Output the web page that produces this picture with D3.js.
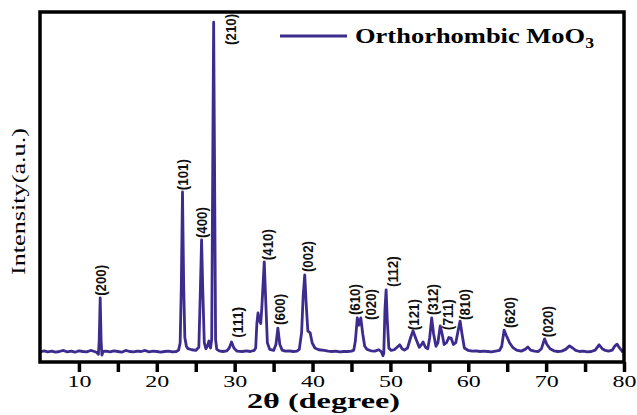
<!DOCTYPE html>
<html lang="en">
<head>
<meta charset="UTF-8">
<title>XRD pattern of orthorhombic MoO3</title>
<script src="https://d3js.org/d3.v7.min.js"></script>
<style>
  body { margin: 0; background: #fff; }
  .serif { font-family: "Liberation Serif", "Times New Roman"; }
  .sans { font-family: "Liberation Sans", Arial; }
</style>
</head>
<body>
<svg id="chart"></svg>
<script>
// 2θ (degree) and intensity (a.u.)
const twoTheta = [
  5.0, 5.5, 6.0, 6.5, 7.0, 7.5, 8.0, 8.5, 9.0, 9.5, 10.0, 10.5, 11.0, 11.5, 12.0, 12.3, 12.5, 12.6, 12.73, 12.85,
  12.95, 13.1, 13.5, 14.0, 14.5, 15.0, 15.5, 16.0, 16.5, 17.0, 17.5, 18.0, 18.5, 19.0, 19.5, 20.0, 20.5, 21.0, 21.5, 22.0,
  22.5, 22.8, 23.0, 23.15, 23.3, 23.45, 23.6, 23.8, 24.0, 24.5, 25.0, 25.4, 25.6, 25.75, 25.9, 26.1, 26.3, 26.5, 26.7, 26.9,
  27.05, 27.2, 27.3, 27.4, 27.55, 27.7, 28.0, 28.5, 29.0, 29.3, 29.6, 29.9, 30.3, 31.0, 31.5, 32.0, 32.5, 32.7, 32.85, 33.0,
  33.15, 33.35, 33.5, 33.8, 34.0, 34.2, 34.5, 35.0, 35.3, 35.55, 35.8, 36.1, 36.5, 37.0, 37.5, 38.0, 38.3, 38.6, 38.8, 39.0,
  39.2, 39.4, 39.7, 39.95, 40.3, 40.8, 41.5, 42.0, 42.5, 43.0, 43.5, 44.0, 44.5, 45.0, 45.3, 45.5, 45.75, 45.95, 46.2, 46.45,
  46.7, 47.0, 47.5, 48.0, 48.5, 48.8, 49.05, 49.15, 49.3, 49.45, 49.6, 49.8, 50.1, 50.5, 51.0, 51.2, 51.5, 51.8, 52.2, 52.6,
  52.9, 53.3, 53.7, 54.0, 54.2, 54.5, 54.8, 55.05, 55.3, 55.55, 55.85, 56.1, 56.4, 56.65, 56.9, 57.2, 57.5, 57.8, 58.1, 58.4,
  58.7, 58.95, 59.2, 59.5, 60.0, 60.5, 61.0, 61.5, 62.0, 62.5, 63.0, 63.5, 64.0, 64.3, 64.6, 64.9, 65.3, 65.7, 66.2, 66.8,
  67.3, 67.65, 68.0, 68.5, 69.0, 69.4, 69.8, 70.1, 70.5, 71.0, 71.5, 72.0, 72.5, 73.0, 73.4, 73.8, 74.3, 74.8, 75.3, 75.8,
  76.3, 76.8, 77.2, 77.6, 78.0, 78.5, 78.8, 79.1, 79.5, 79.8, 80.0
];
const intensity = [
  28, 32, 29, 31, 28, 30, 33, 29, 31, 28, 32, 30, 29, 33, 30, 27, 22, 60, 183, 60,
  20, 30, 31, 29, 32, 30, 28, 33, 30, 29, 31, 30, 33, 29, 31, 30, 28, 30, 31, 29,
  30, 34, 55, 220, 486, 220, 70, 45, 38, 35, 33, 42, 210, 349, 210, 55, 38, 45, 60, 40,
  65, 620, 971, 620, 65, 36, 32, 30, 32, 40, 57, 40, 31, 30, 32, 30, 33, 40, 110, 140,
  120, 110, 160, 286, 170, 55, 36, 33, 50, 97, 50, 34, 31, 32, 30, 31, 36, 85, 190, 249,
  160, 88, 83, 55, 40, 35, 33, 31, 30, 31, 29, 30, 30, 31, 34, 60, 126, 105, 126, 80,
  45, 36, 32, 31, 35, 30, 18, 25, 150, 206, 120, 40, 33, 35, 45, 49, 38, 34, 40, 70,
  89, 65, 42, 50, 57, 42, 38, 70, 126, 80, 45, 55, 103, 80, 50, 55, 70, 68, 50, 55,
  90, 117, 80, 40, 33, 31, 32, 30, 31, 30, 29, 31, 33, 45, 91, 75, 55, 42, 34, 31,
  36, 43, 34, 31, 30, 38, 66, 50, 38, 32, 30, 31, 36, 46, 40, 33, 30, 31, 29, 30,
  34, 49, 38, 33, 31, 34, 45, 51, 38, 30, 32
];

// Miller index labels, anchored (2θ, intensity) at the lower end of each label
const peakLabels = ["(200)", "(101)", "(400)", "(210)", "(111)", "(410)", "(600)", "(002)", "(610)", "(020)",
                    "(112)", "(121)", "(312)", "(711)", "(810)", "(620)", "(020)"];
const labelTheta = [12.75, 23.3, 25.75, 29.5, 30.35, 34.25, 35.8, 39.3, 45.35, 47.4,
                    50.25, 52.95, 55.4, 57.3, 59.5, 65.3, 70.2];
const labelIntensity = [189, 491, 354, 906, 69, 291, 106, 257, 134, 120,
                        214, 91, 134, 91, 120, 97, 71];

const xTicks = [10, 20, 30, 40, 50, 60, 70, 80];
const xMinorTicks = [15, 25, 35, 45, 55, 65, 75];

const width = 637, height = 415;
const margin = { top: 12, right: 13, bottom: 53, left: 40 };
const lineColor = "#3d2b8e";

const svg = d3.select("#chart")
    .attr("width", width)
    .attr("height", height);

const x = d3.scaleLinear().domain([5, 80]).range([margin.left, width - margin.right]);
const y = d3.scaleLinear().domain([0, 1000]).range([height - margin.bottom, margin.top]);

// data line
const data = twoTheta.map((t, i) => ({ t, v: intensity[i] }));
svg.append("path")
    .datum(data)
    .attr("fill", "none")
    .attr("stroke", lineColor)
    .attr("stroke-width", 2.8)
    .attr("stroke-linejoin", "round")
    .attr("d", d3.line().x(d => x(d.t)).y(d => y(d.v)));

// peak labels
svg.append("g")
    .selectAll("text")
    .data(peakLabels)
    .join("text")
    .attr("class", "sans")
    .attr("transform", (d, i) => `translate(${x(labelTheta[i])},${y(labelIntensity[i])}) rotate(-90)`)
    .attr("dy", "0.36em")
    .attr("font-weight", "bold")
    .attr("font-size", 15.5)
    .attr("fill", "#111")
    .attr("textLength", 31)
    .attr("lengthAdjust", "spacingAndGlyphs")
    .text(d => d);

// x axis with major and minor ticks
const xAxis = svg.append("g")
    .attr("transform", `translate(0,${height - margin.bottom})`)
    .call(d3.axisBottom(x).tickValues(xTicks).tickSize(10).tickFormat(d3.format("d")));
xAxis.select(".domain").remove();
xAxis.selectAll("line").attr("stroke", "#000").attr("stroke-width", 3.5);
xAxis.selectAll("text")
    .attr("class", "serif")
    .attr("font-size", 17.5)
    .attr("fill", "#000")
    .attr("dy", "0.68em")
    .attr("textLength", 24)
    .attr("lengthAdjust", "spacingAndGlyphs");

const xMinor = svg.append("g")
    .attr("transform", `translate(0,${height - margin.bottom})`)
    .call(d3.axisBottom(x).tickValues(xMinorTicks).tickSize(10).tickFormat(""));
xMinor.select(".domain").remove();
xMinor.selectAll("line").attr("stroke", "#000").attr("stroke-width", 3.5);

// frame
svg.append("rect")
    .attr("x", margin.left)
    .attr("y", margin.top)
    .attr("width", width - margin.left - margin.right)
    .attr("height", height - margin.top - margin.bottom)
    .attr("fill", "none")
    .attr("stroke", "#000")
    .attr("stroke-width", 3.5);

// axis titles
svg.append("text")
    .attr("class", "serif")
    .attr("x", 247)
    .attr("y", 408)
    .attr("font-weight", "bold")
    .attr("font-size", 21)
    .attr("textLength", 153)
    .attr("lengthAdjust", "spacingAndGlyphs")
    .text("2θ (degree)");

svg.append("text")
    .attr("class", "serif")
    .attr("transform", "translate(25,275) rotate(-90)")
    .attr("font-size", 19)
    .attr("textLength", 147)
    .attr("lengthAdjust", "spacingAndGlyphs")
    .text("Intensity(a.u.)");

// legend
svg.append("line")
    .attr("x1", 280).attr("x2", 347)
    .attr("y1", 36).attr("y2", 36)
    .attr("stroke", lineColor)
    .attr("stroke-width", 3);

const legendText = svg.append("text")
    .attr("class", "serif")
    .attr("x", 355)
    .attr("y", 43)
    .attr("font-weight", "bold")
    .attr("font-size", 21)
    .attr("textLength", 239)
    .attr("lengthAdjust", "spacingAndGlyphs");
legendText.append("tspan").text("Orthorhombic MoO");
legendText.append("tspan").attr("font-size", 14).attr("dy", 5).text("3");
</script>
</body>
</html>
